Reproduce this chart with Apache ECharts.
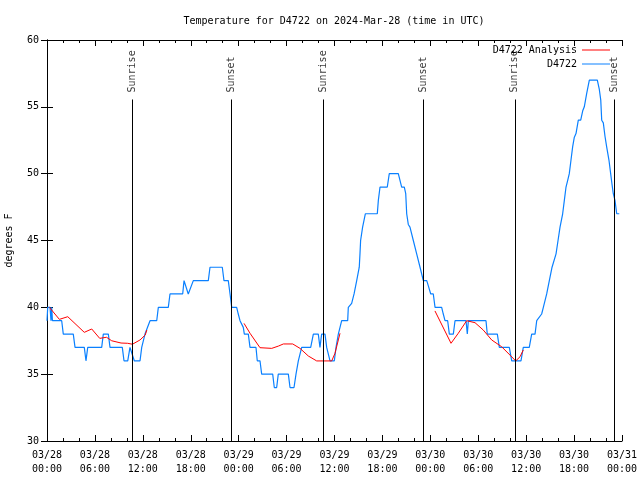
<!DOCTYPE html>
<html>
<head>
<meta charset="utf-8">
<script src="https://cdn.jsdelivr.net/npm/echarts@6/dist/echarts.min.js"></script>
<style>html,body{margin:0;padding:0;background:#fff;}#c{width:640px;height:480px;}</style>
</head>
<body>
<div id="c"></div>
<script>
// hours since 03/28 00:00 UTC
const tickLabels = ['03/28\n00:00','03/28\n06:00','03/28\n12:00','03/28\n18:00','03/29\n00:00','03/29\n06:00','03/29\n12:00','03/29\n18:00','03/30\n00:00','03/30\n06:00','03/30\n12:00','03/30\n18:00','03/31\n00:00'];

const obsHours = [0.00,0.09,0.38,0.50,0.59,0.68,1.84,2.04,3.29,3.51,4.67,4.88,5.10,6.85,7.05,7.68,7.89,9.43,9.64,10.11,10.39,10.64,10.93,11.65,11.86,12.27,12.90,13.74,13.94,15.19,15.40,16.99,17.16,17.41,17.69,17.91,18.32,20.20,20.41,21.95,22.16,22.70,22.92,23.13,23.75,23.95,24.17,24.38,24.58,24.71,25.21,25.42,26.17,26.33,26.67,26.88,28.26,28.46,28.76,28.96,30.22,30.43,30.93,31.18,31.47,31.89,33.02,33.35,33.97,34.18,34.39,34.81,35.02,35.44,35.98,36.19,36.48,36.90,37.65,37.73,38.15,38.45,38.57,38.78,39.10,39.19,39.27,39.52,39.86,41.36,41.49,41.70,42.61,42.86,43.99,44.20,44.41,44.74,44.92,45.04,45.24,45.45,45.87,46.29,46.71,47.12,47.55,47.75,48.05,48.37,48.59,49.42,49.62,49.84,50.17,50.38,50.88,51.09,52.47,52.63,52.76,54.97,55.13,56.39,56.64,57.89,58.19,59.35,59.64,60.39,60.69,61.11,61.32,61.94,62.15,62.57,62.70,62.90,63.24,63.74,63.99,64.24,64.45,64.57,64.78,64.99,65.20,65.40,65.61,65.82,66.02,66.24,66.40,66.53,66.83,67.08,67.28,67.58,67.91,68.91,69.16,69.34,69.46,69.66,69.87,70.08,70.21,70.37,70.58,70.75,70.91,71.12,71.34,71.66];
const obsTemps = [39,40,40,39,40,39,39,38,38,37,37,36,37,37,38,38,37,37,36,36,37,37,36,36,37,38,39,39,40,40,41,41,42,42,41,41,42,42,43,43,42,42,41,40,40,39.5,39,39,38.5,38,38,37,37,36,36,35,35,34,34,35,35,34,34,35,36,37,37,38,38,37,38,38,37,36,36,37,38,39,39,40,40.3,41,41,42,43,44,45,46,47,47,48,49,49,50,50,49.5,49,49,48.5,47,46.2,46,45,44,43,42,42,41.6,41,41,40,40,39.5,39,39,38,38,39,39,38,39,39,38,38,37,37,36,36,37,37,38,38,39,39.5,40,41,41,42,43,44,45,46,46,47,48,49,49.5,50,51,52,52.7,53,53,54,54,54.7,55,56,57,57,56.3,55.5,54,53.8,52.8,52,52,51,50,49.2,48.5,48,47,47];

const anaHours1 = [0.30,1.55,2.60,4.67,5.60,6.60,7.45,8.10,9.27,10.10,10.70,11.65,12.30,12.50];
const anaTemps1 = [40.0,39.1,39.3,38.13,38.38,37.68,37.76,37.5,37.33,37.31,37.24,37.56,37.93,38.3];
const anaHours2 = [24.67,25.42,26.67,28.14,28.97,29.60,30.77,31.68,32.72,33.77,35.65,36.06,36.48,36.69];
const anaTemps2 = [38.8,38.06,36.98,36.93,37.1,37.26,37.26,36.93,36.36,35.99,35.99,36.56,37.56,38.06];
const anaHours3 = [48.58,50.59,51.50,52.55,53.60,54.63,55.68,56.93,57.97,58.69,59.23,59.64];
const anaTemps3 = [39.73,37.31,38.06,39.0,38.85,38.3,37.56,37.05,36.43,35.99,36.3,36.81];

const sunHours = [10.64,23.04,34.56,47.09,58.58,71.09];
const sunNames = ['Sunrise','Sunset','Sunrise','Sunset','Sunrise','Sunset'];
const sunLineTop = 55.55;

const FONT = 'DejaVu Sans Mono';
const zip = (a,b) => a.map((v,i)=>[v,b[i]]);
const anaData = [].concat(zip(anaHours1,anaTemps1), [[18,'-']], zip(anaHours2,anaTemps2), [[42,'-']], zip(anaHours3,anaTemps3));
const obsData = zip(obsHours, obsTemps);

const xCommon = {
  type:'value', min:0, max:72, interval:6,
  axisLine:{show:true, lineStyle:{color:'#000', width:1}},
  axisTick:{show:true, inside:true, length:6, lineStyle:{color:'#000'}},
  minorTick:{show:true, splitNumber:3, length:3, lineStyle:{color:'#000'}},
  splitLine:{show:false}, minorSplitLine:{show:false}
};
const yCommon = {
  type:'value', min:30, max:60, interval:5,
  axisLine:{show:true, lineStyle:{color:'#000', width:1}},
  axisTick:{show:true, inside:true, length:6, lineStyle:{color:'#000'}},
  splitLine:{show:false}
};

const chart = echarts.init(document.getElementById('c'), null, {renderer:'canvas'});
chart.setOption({
  animation:false,
  backgroundColor:'#fff',
  textStyle:{fontFamily:FONT},
  title:{text:'Temperature for D4722 on 2024-Mar-28 (time in UTC)', left:329, top:11, textAlign:'center',
    textStyle:{fontFamily:FONT, fontSize:10, fontWeight:'normal', color:'#000'}},
  grid:{left:47, right:18, top:40, bottom:39, outerBoundsMode:'none', containLabel:false},
  legend:{
    orient:'vertical', right:25, top:40, align:'right', itemWidth:28, itemHeight:10, itemGap:4,
    textStyle:{fontFamily:FONT, fontSize:10, color:'#000'},
    data:[{name:'D4722 Analysis', icon:'path://M0,5L28,5L28,6L0,6Z'},{name:'D4722', icon:'path://M0,5L28,5L28,6L0,6Z'}]
  },
  xAxis:[
    Object.assign({}, xCommon, {position:'bottom',
      axisLabel:{show:true, margin:7, lineHeight:14, fontFamily:FONT, fontSize:10, color:'#000',
        formatter:v=>tickLabels[Math.round(v/6)]}}),
    Object.assign({}, xCommon, {position:'top', axisLabel:{show:false}})
  ],
  yAxis:[
    Object.assign({}, yCommon, {position:'left', name:'degrees F', nameLocation:'middle', nameGap:33, nameRotate:90,
      nameTextStyle:{fontFamily:FONT, fontSize:10, color:'#000'},
      axisLabel:{show:true, margin:8, fontFamily:FONT, fontSize:10, color:'#000'}}),
    Object.assign({}, yCommon, {position:'right', axisLabel:{show:false}})
  ],
  series:[
    {
      name:'sun', type:'scatter', symbolSize:0, silent:true,
      data: sunHours.map((h,i)=>({value:[h, sunLineTop], name:sunNames[i]})),
      label:{show:true, position:'top', distance:7, rotate:90, align:'left', verticalAlign:'middle',
        formatter:p=>p.name, fontFamily:FONT, fontSize:10, color:'#000'},
      markLine:{silent:true, symbol:['none','none'], label:{show:false},
        lineStyle:{color:'#000', width:1, type:'solid'},
        data: sunHours.map(h=>[{coord:[h,30]},{coord:[h,sunLineTop]}])},
      z:1
    },
    {
      name:'D4722 Analysis', type:'line', data:anaData, showSymbol:false, symbol:'none',
      connectNulls:false, lineStyle:{color:'#ff0000', width:1}, itemStyle:{color:'#ff0000'}, z:3
    },
    {
      name:'D4722', type:'line', data:obsData, showSymbol:false, symbol:'none',
      lineStyle:{color:'#0a80ff', width:1.2}, itemStyle:{color:'#0a80ff'}, z:2
    }
  ]
});
</script>
</body>
</html>
